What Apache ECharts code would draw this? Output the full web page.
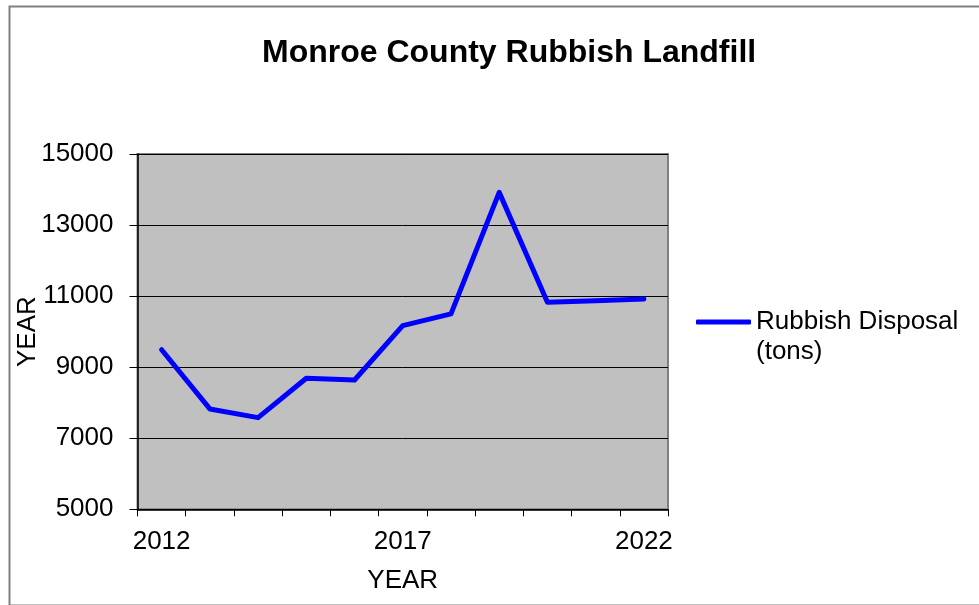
<!DOCTYPE html>
<html>
<head>
<meta charset="utf-8">
<script src="https://cdn.jsdelivr.net/npm/echarts@6/dist/echarts.min.js"></script>
<style>
html,body{margin:0;padding:0;background:#fff;}
#chart{width:979px;height:605px;}
</style>
</head>
<body>
<div id="chart"></div>
<script>
const categories = ['2012','2013','2014','2015','2016','2017','2018','2019','2020','2021','2022'];
const disposalTons = [9490, 7825, 7580, 8690, 8640, 10170, 10500, 13920, 10830, 10870, 10920];
const seriesName = 'Rubbish Disposal\n(tons)';
const titleText = 'Monroe County Rubbish Landfill';
const xAxisName = 'YEAR';
const yAxisName = 'YEAR';
const yMin = 5000, yMax = 15000, yStep = 2000;

const FONT = '"Liberation Sans", Arial, sans-serif';
const chart = echarts.init(document.getElementById('chart'), null, {renderer: 'canvas'});
chart.setOption({
  animation: false,
  backgroundColor: '#ffffff',
  title: {
    text: titleText,
    left: 262,
    top: 37,
    padding: 0,
    textStyle: {fontFamily: FONT, fontSize: 32, fontWeight: 'bold', color: '#000'}
  },
  graphic: [{
    type: 'rect',
    left: 7, top: 4,
    shape: {width: 1000, height: 599},
    style: {fill: 'none', stroke: '#808080', lineWidth: 2},
    silent: true
  }],
  legend: {
    left: 696,
    top: 277,
    padding: 0,
    icon: 'roundRect',
    itemWidth: 55,
    itemHeight: 5,
    data: [seriesName],
    formatter: function (name) {
      var parts = name.split('\n');
      return '{g|\u00a0}\n{t|' + parts[0] + '}\n{t|' + parts[1] + '}';
    },
    textStyle: {
      fontFamily: FONT, fontSize: 26, color: '#000', lineHeight: 30,
      rich: {
        g: {fontFamily: FONT, fontSize: 26, lineHeight: 30, height: 30},
        t: {fontFamily: FONT, fontSize: 26, lineHeight: 30, color: '#000'}
      }
    }
  },
  grid: {
    left: 137.5, right: 311, top: 154, bottom: 95.7,
    outerBoundsMode: 'none',
    containLabel: false,
    show: true,
    backgroundColor: '#C0C0C0',
    borderColor: '#808080',
    borderWidth: 2
  },
  xAxis: {
    type: 'category',
    data: categories,
    boundaryGap: true,
    name: xAxisName,
    nameLocation: 'middle',
    nameGap: 59,
    nameMoveOverlap: false,
    nameTextStyle: {fontFamily: FONT, fontSize: 26, color: '#000'},
    axisLine: {lineStyle: {color: '#000', width: 1.5}},
    axisTick: {show: true, interval: 0, length: 7, lineStyle: {color: '#000', width: 1}},
    axisLabel: {interval: 4, margin: 20, fontFamily: FONT, fontSize: 26, color: '#000'},
    splitLine: {show: false}
  },
  yAxis: {
    type: 'value',
    min: yMin, max: yMax, interval: yStep,
    name: yAxisName,
    nameLocation: 'middle',
    nameRotate: 90,
    nameGap: 97,
    nameMoveOverlap: false,
    nameTextStyle: {fontFamily: FONT, fontSize: 26, color: '#000'},
    axisLine: {show: true, lineStyle: {color: '#000', width: 1.5}},
    axisTick: {show: true, length: 8, lineStyle: {color: '#000', width: 1}},
    axisLabel: {margin: 24, fontFamily: FONT, fontSize: 26, color: '#000',
      formatter: function (v) { return String(v); }},
    splitLine: {show: true, lineStyle: {color: '#000', width: 1}}
  },
  series: [{
    name: seriesName,
    type: 'line',
    data: disposalTons,
    showSymbol: false,
    symbol: 'none',
    smooth: false,
    lineStyle: {color: '#0000FF', width: 5, cap: 'round', join: 'round'},
    itemStyle: {color: '#0000FF'}
  }]
});
</script>
</body>
</html>
